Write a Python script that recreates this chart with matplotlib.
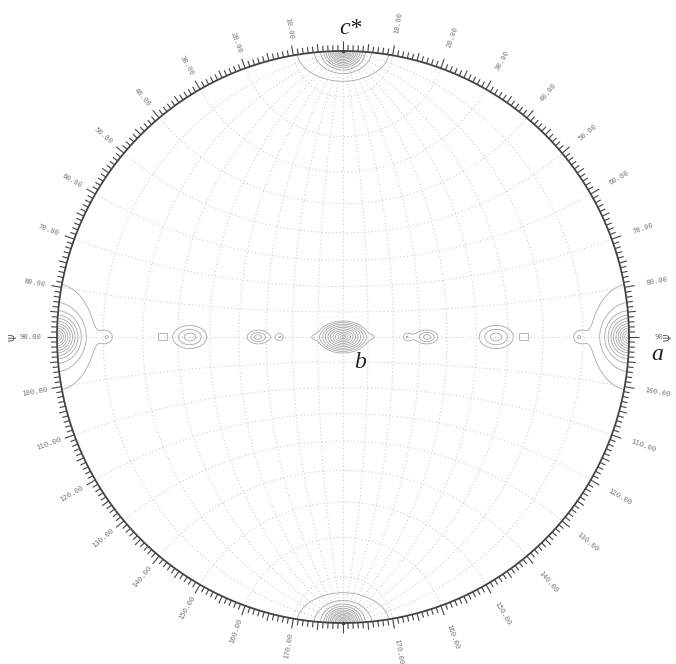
import numpy as np
import matplotlib
matplotlib.use("Agg")
import matplotlib.pyplot as plt
from matplotlib.collections import LineCollection

# -----------------------------
# Data (pixel offsets from the projection centre, y up)
# -----------------------------
R_PX = 286.0

peak_x = [0, -29, 29, 0, 0, 0, 0, -286, 286, -286, 286, -236, 236,
          -153, 153, -85, 84, -63, 64]
peak_y = [0, 0, 0, 286, -286, 286, -286, 0, 0, 0, 0, 0, 0,
          0, 0, 0, 0, 0, 0]
peak_lnA = [5.0, 0.2, 0.2, 7.0, 7.0, 1.1, 1.1, 6.0, 6.0, 1.2, 1.2, 0.3, 0.3,
            1.5, 1.5, 1.5, 1.5, 0.5, 0.5]
peak_sx = [5.0, 4, 4, 3.2, 3.2, 42, 42, 4.2, 4.2, 30, 30, 5, 5,
           11, 11, 7, 7, 5, 5]
peak_sy = [3.2, 3, 3, 2.8, 2.8, 27, 27, 4.3, 4.3, 44, 44, 5, 5,
           7.5, 7.5, 4.5, 4.5, 5, 5]

# small square-ish spots beside the 56 degree peaks
spot_x = [-180, 181]
spot_y = [0, 0]
spot_w = [4.5, 4.5]
spot_h = [3.5, 3.5]

net_angles = [-80, -70, -60, -50, -40, -30, -20, -10, 0, 10, 20, 30, 40, 50, 60, 70, 80]
label_angles = [10, 20, 30, 40, 50, 60, 70, 80, 90, 100, 110, 120, 130, 140, 150, 160, 170]

axis_labels = ["c*", "b", "a"]
axis_label_px = [(350, 28), (360, 362), (657, 355)]

# -----------------------------
# Figure setup: 676x664 px, centre at (343, 337), radius 286 px
# -----------------------------
W, H = 676, 664
CX, CY = 343, 337
fig = plt.figure(figsize=(W / 100, H / 100), dpi=100)
ax = fig.add_axes([0, 0, 1, 1])
ax.set_xlim(-CX / R_PX, (W - CX) / R_PX)
ax.set_ylim(-(H - CY) / R_PX, CY / R_PX)
ax.axis("off")


def px(x, y):
    return (x - CX) / R_PX, (CY - y) / R_PX


# -----------------------------
# Wulff net (dotted)
# -----------------------------
t = np.radians(np.linspace(-90, 90, 361))
grid_kw = dict(color="#cdcdcd", lw=0.8, ls=(0, (1, 2.2)), zorder=1)
for a in net_angles:
    lam = np.radians(a)
    X = np.cos(t) * np.sin(lam)
    Y = np.sin(t)
    Z = np.cos(t) * np.cos(lam)
    ax.plot(X / (1 + Z), Y / (1 + Z), **grid_kw)
    phi = np.radians(a)
    X = np.cos(phi) * np.sin(t)
    Y = np.sin(phi) * np.ones_like(t)
    Z = np.cos(phi) * np.cos(t)
    ax.plot(X / (1 + Z), Y / (1 + Z), **grid_kw)

# -----------------------------
# Intensity contours
# -----------------------------
g = np.linspace(-290, 290, 1161)
GX, GY = np.meshgrid(g, g)
outside = np.hypot(GX, GY) > R_PX

field = np.zeros_like(GX)
for x0, y0, la, sx, sy in zip(peak_x, peak_y, peak_lnA, peak_sx, peak_sy):
    d = np.sqrt(((GX - x0) / sx) ** 2 + ((GY - y0) / sy) ** 2)
    field += np.exp(la - d)
field[outside] = np.nan
levels = np.exp(0.5 * np.arange(0, 17))
cont_kw = dict(colors="#a8a8a8", linewidths=0.6, zorder=2)
ax.contour(GX / R_PX, GY / R_PX, field, levels=levels, **cont_kw)

spots = np.zeros_like(GX)
for x0, y0, w, h in zip(spot_x, spot_y, spot_w, spot_h):
    d = np.maximum(np.abs(GX - x0) / w, np.abs(GY - y0) / h)
    spots = np.maximum(spots, 1 - d)
spots[outside] = np.nan
ax.contour(GX / R_PX, GY / R_PX, spots, levels=[0.0], **cont_kw)

ax.plot([0], [0], marker="x", ms=3, color="#bbbbbb", mew=0.6, zorder=3)
ax.plot([0, 0], [1, -1], ls="none", marker="o", ms=1.5, color="#333333", zorder=4)

# -----------------------------
# Primitive circle and ticks
# -----------------------------
c = np.linspace(0, 2 * np.pi, 720)
ax.plot(np.cos(c), np.sin(c), color="#444444", lw=1.3, zorder=4)

segs = []
for deg in range(360):
    L = 10 if deg % 10 == 0 else (8 if deg % 5 == 0 else 6)
    a = np.radians(deg)
    s, co = np.sin(a), np.cos(a)
    segs.append([(s, co), (s * (1 + L / R_PX), co * (1 + L / R_PX))])
ax.add_collection(LineCollection(segs, colors="#444444", linewidths=0.8, zorder=4))

# -----------------------------
# Angle labels
# -----------------------------
lab_kw = dict(family="DejaVu Sans Mono", fontsize=5.2, color="#777777",
              ha="center", va="center", rotation_mode="anchor")
rl, rr = 313 / R_PX, 319 / R_PX
for th in label_angles:
    a = np.radians(th)
    ax.text(-rl * np.sin(a), rl * np.cos(a), f"{th:.2f}", rotation=th - 90, **lab_kw)
    if th == 90:
        continue
    ax.text(rr * np.sin(a), rr * np.cos(a), f"{th:.2f}", rotation=90 - th, **lab_kw)

# right-hand 90 label and the small markers beside the 90 labels
ax.text(*px(659, 337), "90", **lab_kw)
ax.text(*px(13, 337), "Ψ", family="DejaVu Sans", fontsize=7, color="#555555",
        rotation=90, ha="center", va="center")
ax.text(*px(668, 337), "Ψ", family="DejaVu Sans", fontsize=7, color="#555555",
        rotation=90, ha="center", va="center")

# -----------------------------
# Axis labels
# -----------------------------
for txt, (x, y) in zip(axis_labels, axis_label_px):
    ax.text(*px(x, y), txt, family="Liberation Serif", style="italic",
            fontsize=17, color="#222222", ha="center", va="center")

fig.savefig("out.png", dpi=100)
